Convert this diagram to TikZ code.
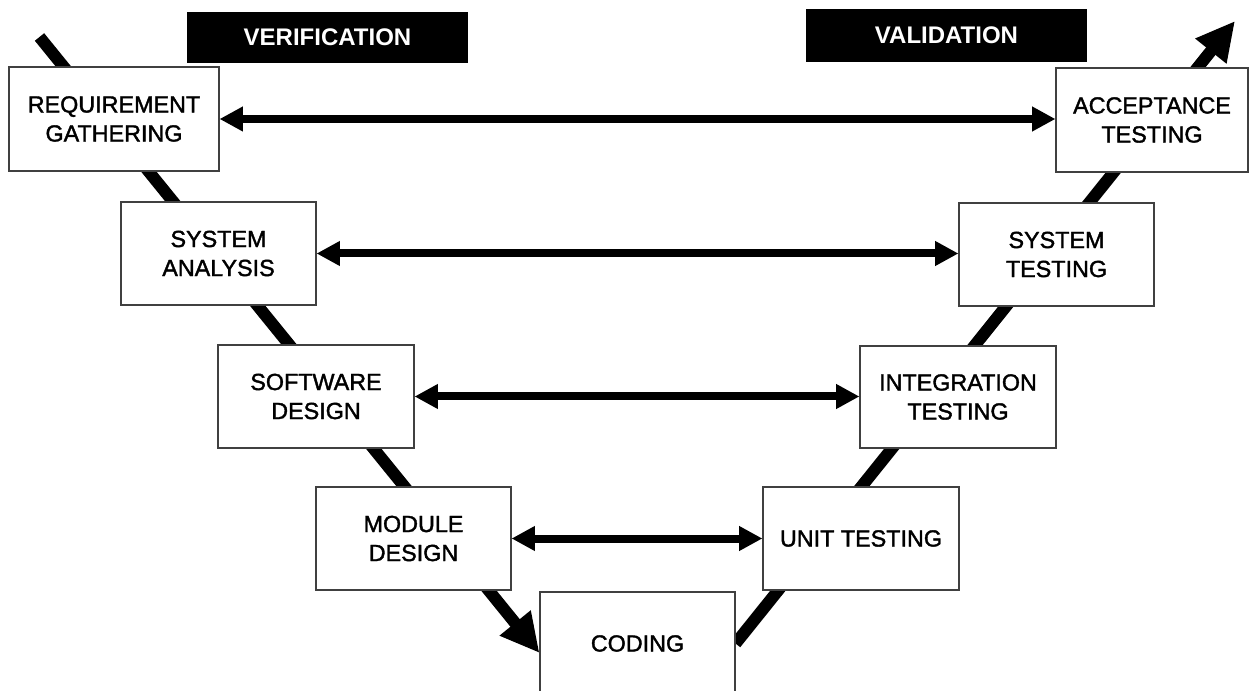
\documentclass[tikz,border=0pt]{standalone}
\usepackage{fontspec}
\setmainfont{Liberation Sans}
\newfontfamily\boxfont[FakeBold=1.6]{Liberation Sans}
\usetikzlibrary{arrows.meta}
\pgfdeclarelayer{background}
\pgfsetlayers{background,main}
\begin{document}
\begin{tikzpicture}[x=0.75pt,y=-0.75pt,
  box/.style={draw=black!75, line width=0.8pt, fill=white, align=center, inner sep=0pt,
    font=\boxfont\fontsize{17.5}{21.75}\selectfont, minimum width=146.25pt, minimum height=77.25pt},
  tag/.style={fill=black, text=white, inner sep=0pt,
    font=\fontsize{18}{21}\selectfont\bfseries, minimum width=210.75pt, minimum height=38.25pt},
  link/.style={line width=6pt,
    {Triangle[length=17.5pt,width=17.5pt]}-{Triangle[length=17.5pt,width=17.5pt]}},
  vline/.style={line width=9pt},
  vtipstyle/.style={-{Triangle[length=29pt,width=28pt]}}
]
\useasboundingbox (0,0) rectangle (1249,691);

% labels
\node[tag] (verif) at (327.5,37.5) {VERIFICATION};
\node[tag, minimum height=39.75pt] (valid) at (946.5,35.5) {VALIDATION};

% left branch
\node[box, minimum width=157.5pt, minimum height=78pt] (req) at (114,119) {REQUIREMENT\\GATHERING};
\node[box] (sysa) at (218.5,253.5) {SYSTEM\\ANALYSIS};
\node[box, minimum width=147pt] (swd) at (316,396.5) {SOFTWARE\\DESIGN};
\node[box] (modd) at (413.5,538.5) {MODULE\\DESIGN};

% bottom
\node[box] (coding) at (637.5,643.5) {CODING};

% right branch
\node[box, minimum width=147pt] (unitt) at (861,538.5) {UNIT TESTING};
\node[box, minimum width=147pt, minimum height=76.5pt] (intt) at (958,397) {INTEGRATION\\TESTING};
\node[box] (syst) at (1056.5,254.5) {SYSTEM\\TESTING};
\node[box, minimum width=144pt, minimum height=78pt] (acc) at (1152,120) {ACCEPTANCE\\TESTING};

% V-shape
\coordinate (vstart) at (39.5,37);
\coordinate (vtip) at (1235,21);
\begin{pgfonlayer}{background}
  \draw[vline, vtipstyle] (vstart) -- ([yshift=-7.1pt]coding.west);
  \draw[vline, vtipstyle] (coding.east) -- (vtip);
\end{pgfonlayer}

% horizontal links
\draw[link] (req.east) -- (req.east -| acc.west);
\draw[link] (sysa.east) -- (sysa.east -| syst.west);
\draw[link] (swd.east) -- (swd.east -| intt.west);
\draw[link] (modd.east) -- (modd.east -| unitt.west);
\end{tikzpicture}
\end{document}
